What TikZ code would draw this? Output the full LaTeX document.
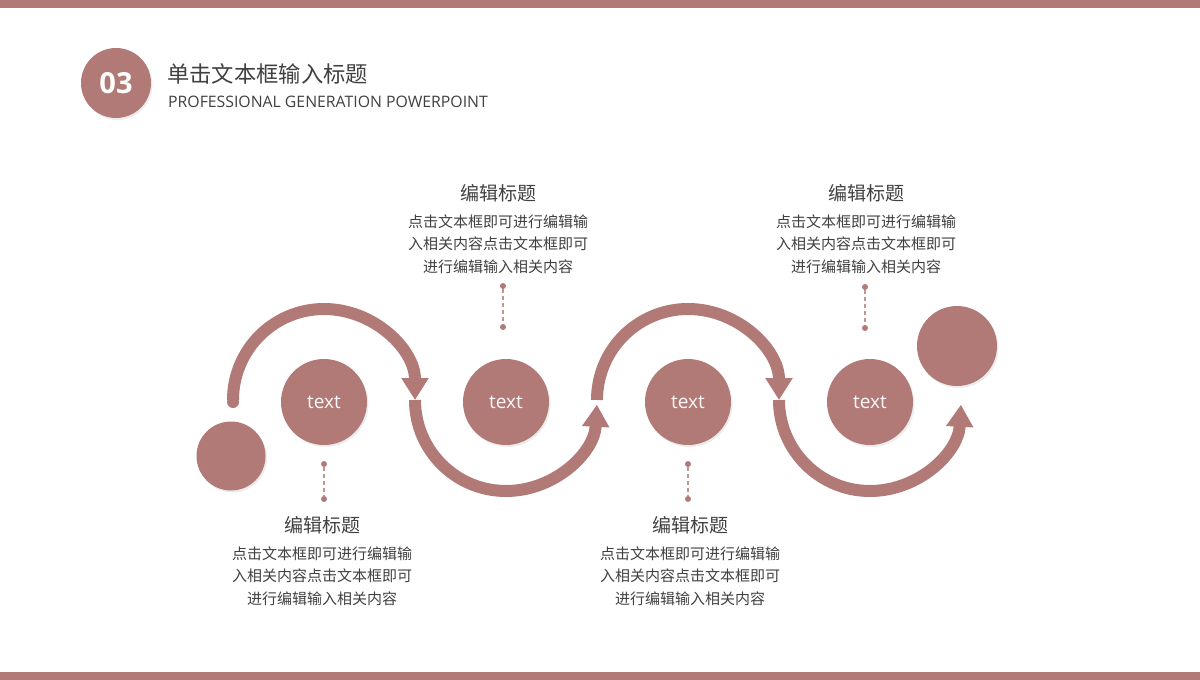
\documentclass[tikz,border=0pt]{standalone}
\usepackage{fontspec}
\setmainfont{Open Sans}
\newfontfamily\cjk{Noto Sans CJK SC}
\usetikzlibrary{arrows.meta}
\usetikzlibrary{shadows}
\definecolor{rose}{HTML}{B27A76}
\definecolor{ink}{HTML}{404040}

\begin{document}
\begin{tikzpicture}[x=1pt, y=-1pt, >={Triangle[width=26pt, length=22pt]},
    disc/.style={circle, fill=rose, inner sep=0pt, text=white!95!rose,
      drop shadow={opacity=.15, shadow xshift=1.5pt, shadow yshift=-2pt}},
    dot/.style={circle, fill=rose, inner sep=0pt, minimum size=6pt},
    band/.style={rose, line width=12pt}]
    \useasboundingbox (0,0) rectangle (1200,680);
    \fill[rose] (0,0) rectangle (1200,8);
    \fill[rose] (0,672) rectangle (1200,680);
    \node[disc, minimum size=70pt, text=white, font=\bfseries\fontsize{29}{29}\selectfont](num) at (116,83) {03};
    \node[anchor=base west, inner sep=0pt, text=ink, font=\cjk\fontsize{22.3}{22.3}\selectfont](title) at (167,82) {单击文本框输入标题};
    \node[anchor=base west, inner sep=0pt, text=ink, font=\fontsize{15.8}{15.8}\selectfont](sub) at (168,107) {PROFESSIONAL GENERATION POWERPOINT};
    \foreach \i/\cx/\b in {1/324/360, 2/506/3, 3/688/360, 4/870/3}
    {\coordinate (s\i) at (\cx-91,400);
    \draw[band, ->] (s\i) arc[start angle=180, end angle=\b, radius=91];}
    \fill[rose] (s1) ++(0,2) circle (6pt);
    \foreach \i/\cx in {1/324, 2/506, 3/688, 4/870}
    {\node[disc, minimum size=86pt, font=\fontsize{19}{19}\selectfont](t\i) at (\cx,402) {text};}
    \node[disc, minimum size=69pt](b1) at (231,456) {};
    \node[disc, minimum size=80pt](b2) at (957,346) {};
    \foreach \n/\x/\ya/\yb in {p1/324/464/499, p2/503/286/327, p3/688/464/499, p4/865/287/328}
    {\node[dot](\n a) at (\x,\ya) {};
    \node[dot](\n b) at (\x,\yb) {};
    \draw[rose!80, line width=1.1pt, dash pattern=on 4pt off 3pt](\n a) -- (\n b);}
    \foreach \n/\x/\y in {h1/322/525, h2/498/193, h3/690/525, h4/866/193}
    {\node[text=ink, font=\cjk\fontsize{19}{19}\selectfont](\n) at (\x,\y) {编辑标题};
    \node[text=ink, align=center, font=\cjk\fontsize{15}{22.5}\selectfont](\n x) at (\x,\y+51) {点击文本框即可进行编辑输\\入相关内容点击文本框即可\\进行编辑输入相关内容};}
\end{tikzpicture}
\end{document}
